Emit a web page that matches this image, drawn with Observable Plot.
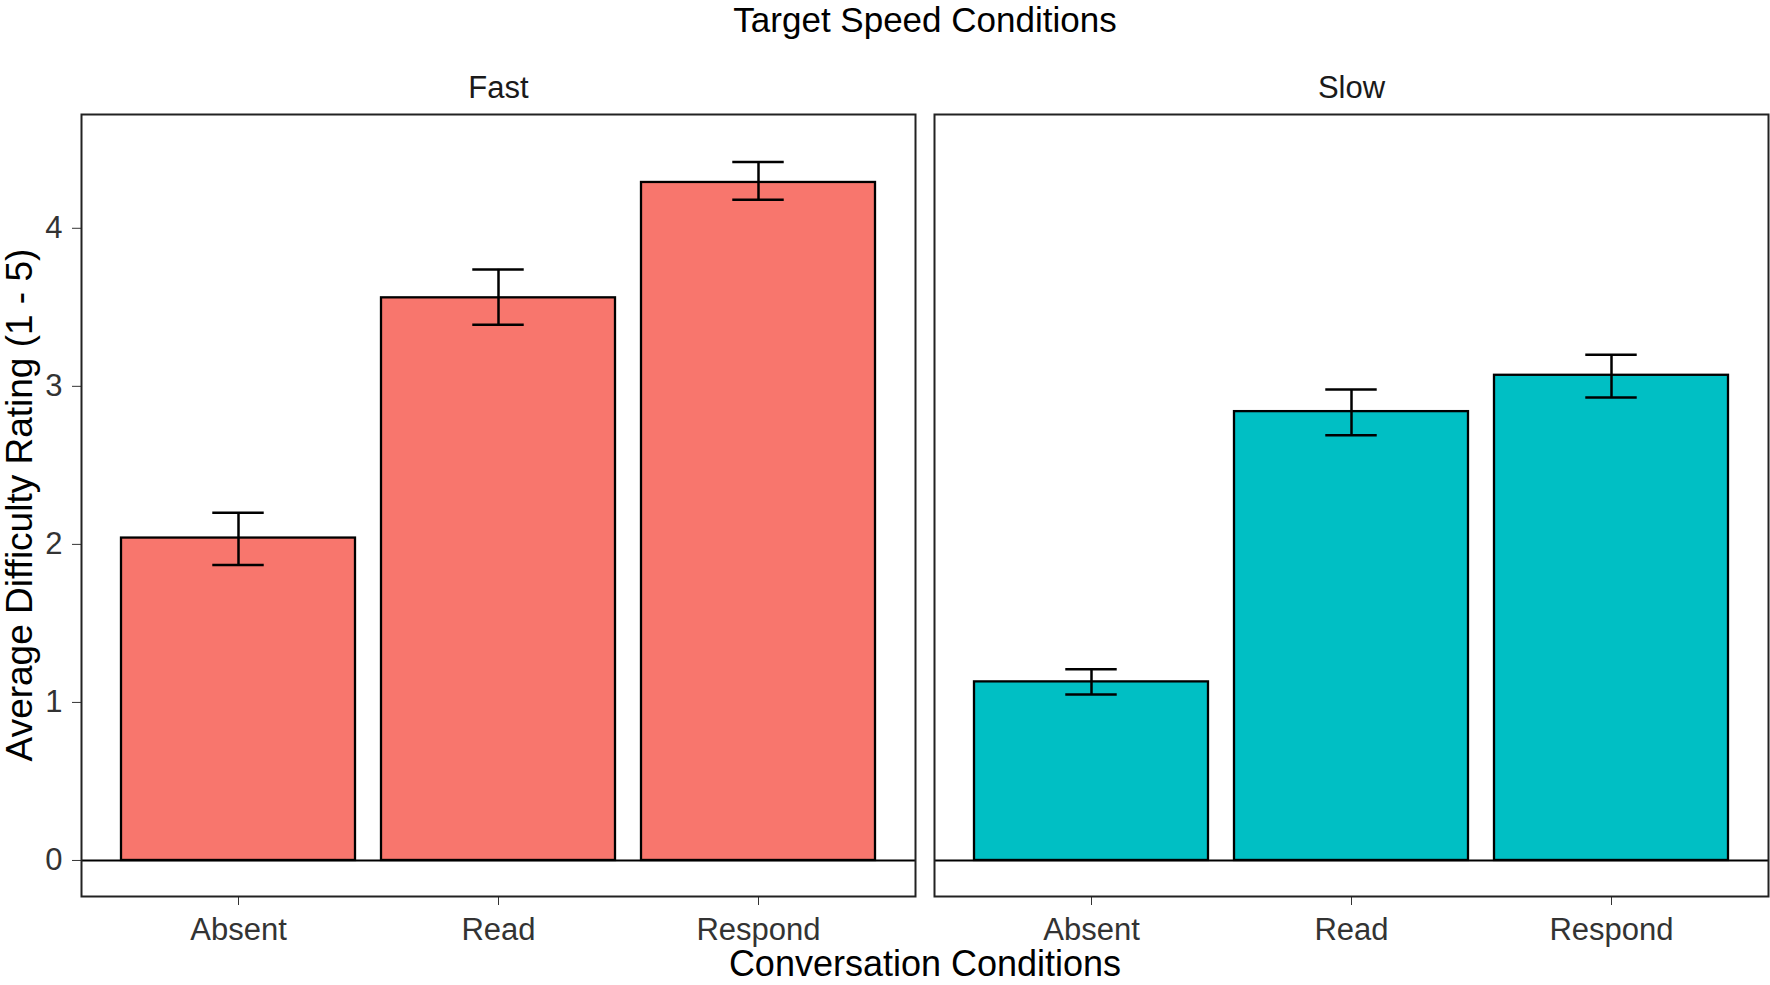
<!DOCTYPE html>
<html>
<head>
<meta charset="utf-8">
<script src="https://cdn.jsdelivr.net/npm/d3@7"></script>
<script src="https://cdn.jsdelivr.net/npm/@observablehq/plot@0.6"></script>
<style>
  body { margin: 0; background: #fff; }
  #chart { position: relative; width: 1770px; height: 985px; }
</style>
</head>
<body>
<div id="chart"></div>
<script>
// ---- data ----
const speeds = ["Fast", "Slow"];
const conversation = ["Absent", "Read", "Respond"];
const fastMean = [2.04, 3.56, 4.29];
const fastLow  = [1.87, 3.39, 4.18];
const fastHigh = [2.20, 3.74, 4.42];
const slowMean = [1.13, 2.84, 3.07];
const slowLow  = [1.05, 2.69, 2.93];
const slowHigh = [1.21, 2.98, 3.20];
const yTicks = [0, 1, 2, 3, 4];
const chartTitle = "Target Speed Conditions";
const xTitle = "Conversation Conditions";
const yTitle = "Average Difficulty Rating (1 - 5)";

const means = {Fast: fastMean, Slow: slowMean};
const lows = {Fast: fastLow, Slow: slowLow};
const highs = {Fast: fastHigh, Slow: slowHigh};
const rows = [];
for (const s of speeds) {
  conversation.forEach((c, j) => {
    rows.push({speed: s, cond: c, mean: means[s][j], lo: lows[s][j], hi: highs[s][j]});
  });
}

const W = 1770, H = 985;
const mL = 81, mR = 1, mT = 114, mB = 89;
const gap = 19;
const panelW = (W - mL - mR - gap) / 2;
const step = panelW / 3.2;
const capHalf = 0.1 * step;
const barW = 0.9 * step;
const capInset = barW / 2 - capHalf;

const chart = Plot.plot({
  width: W,
  height: H,
  marginLeft: mL,
  marginRight: mR,
  marginTop: mT,
  marginBottom: mB,
  style: {
    fontFamily: "'Liberation Sans', Arial, sans-serif",
    fontSize: "31px",
    color: "#333",
    background: "#fff"
  },
  fx: {domain: speeds, axis: null, paddingInner: gap / (panelW + gap), paddingOuter: 0},
  x: {domain: conversation, paddingInner: 0.1, paddingOuter: 0.15, label: null, tickSize: 9, tickPadding: 12},
  y: {domain: [-0.228, 4.72], ticks: yTicks, tickFormat: d => String(d), label: null, tickSize: 9, tickPadding: 10},
  color: {domain: speeds, range: ["#F8766D", "#00BFC4"]},
  marks: [
    Plot.barY(rows, {fx: "speed", x: "cond", y1: 0, y2: "mean", fill: "speed", stroke: "#000", strokeWidth: 2.3}),
    Plot.ruleY([0], {stroke: "#000", strokeWidth: 2}),
    Plot.ruleX(rows, {fx: "speed", x: "cond", y1: "lo", y2: "hi", stroke: "#000", strokeWidth: 2.5}),
    Plot.tickY(rows, {fx: "speed", x: "cond", y: "lo", stroke: "#000", strokeWidth: 2.5, insetLeft: capInset, insetRight: capInset}),
    Plot.tickY(rows, {fx: "speed", x: "cond", y: "hi", stroke: "#000", strokeWidth: 2.5, insetLeft: capInset, insetRight: capInset}),
    Plot.text(speeds, {fx: d => d, text: d => d, frameAnchor: "top", lineAnchor: "bottom", dy: -17, fill: "#1a1a1a", fontSize: 31}),
    Plot.frame({stroke: "#222", strokeWidth: 2})
  ]
});

document.getElementById("chart").appendChild(chart);

const svg = d3.select(chart.tagName.toLowerCase() === "svg" ? chart : chart.querySelector("svg"));
const cx = mL + (W - mL - mR) / 2;
svg.append("text")
  .attr("x", cx).attr("y", 32)
  .attr("text-anchor", "middle")
  .attr("font-size", 35).attr("fill", "#000")
  .text(chartTitle);
svg.append("text")
  .attr("x", cx).attr("y", 976)
  .attr("text-anchor", "middle")
  .attr("font-size", 36).attr("fill", "#000")
  .text(xTitle);
svg.append("text")
  .attr("transform", `translate(32,${mT + (H - mT - mB) / 2}) rotate(-90)`)
  .attr("text-anchor", "middle")
  .attr("font-size", 37).attr("fill", "#000")
  .text(yTitle);
</script>
</body>
</html>
